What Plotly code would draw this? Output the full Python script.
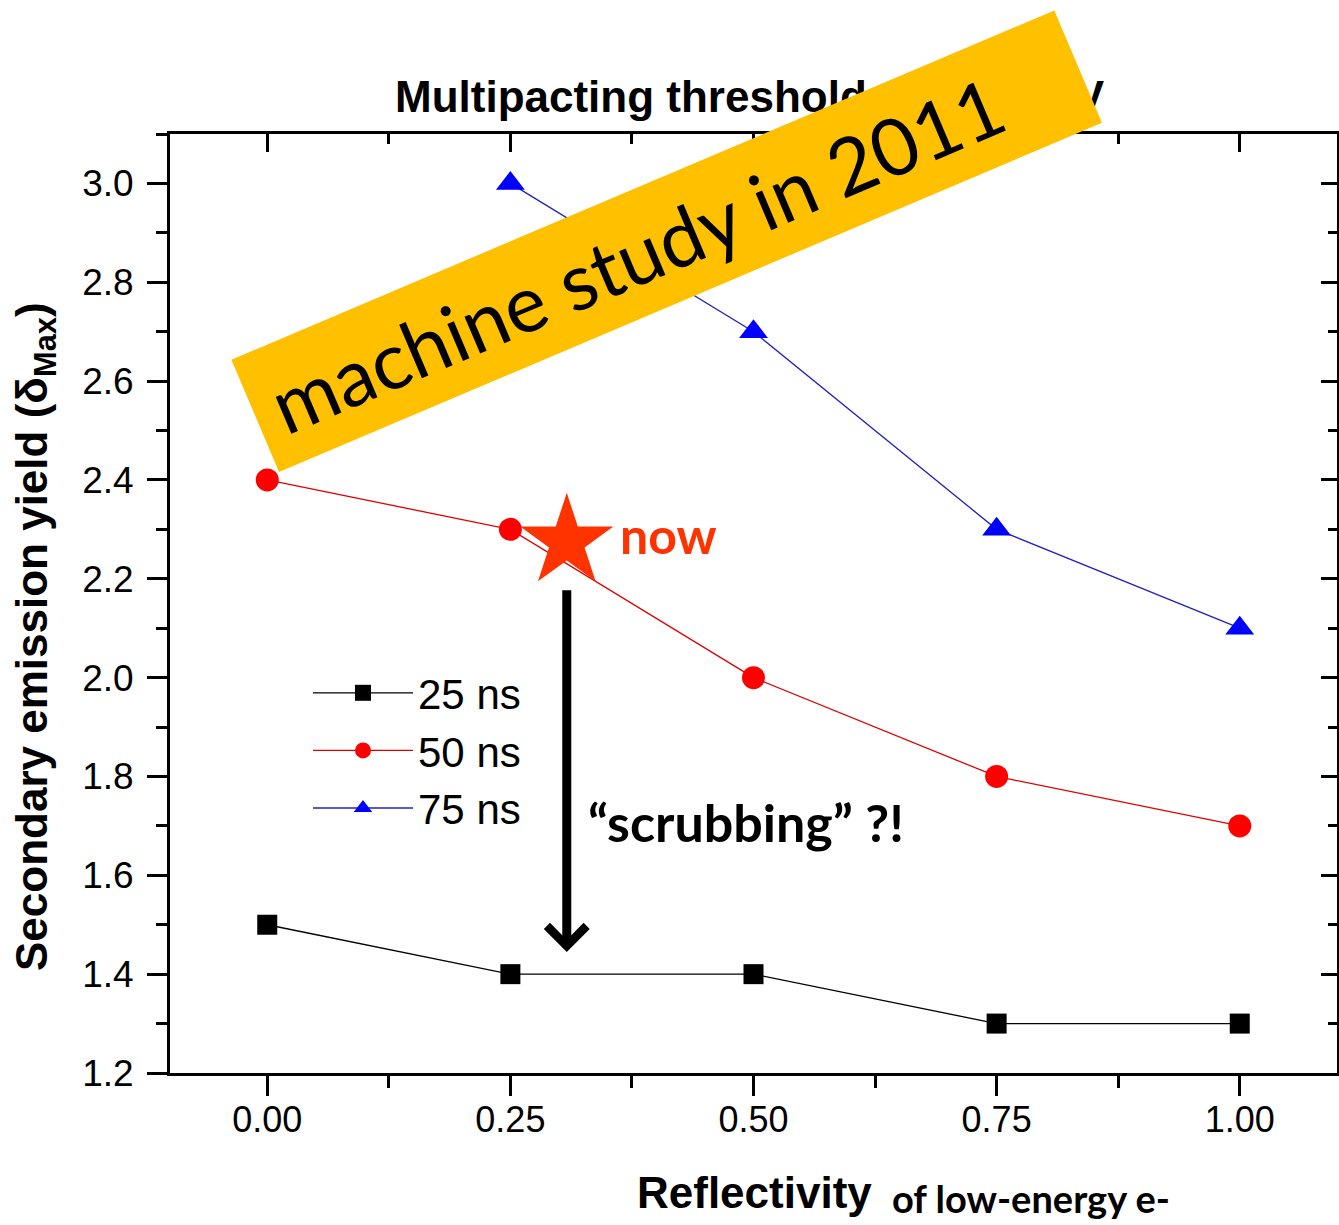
import plotly.graph_objects as go

# ---------------- data ----------------
reflectivity = [0.0, 0.25, 0.5, 0.75, 1.0]
sey_25ns = [1.5, 1.4, 1.4, 1.3, 1.3]
sey_50ns = [2.4, 2.3, 2.0, 1.8, 1.7]
reflectivity_75 = [0.25, 0.5, 0.75, 1.0]
sey_75ns = [3.0, 2.7, 2.3, 2.1]
now_x = [0.308]
now_y = [2.275]
arrow_x = 0.308
arrow_from = 2.18
arrow_to = 1.445
x_ticks = [0.0, 0.25, 0.5, 0.75, 1.0]
x_tick_labels = ["0.00", "0.25", "0.50", "0.75", "1.00"]
y_ticks = [1.2, 1.4, 1.6, 1.8, 2.0, 2.2, 2.4, 2.6, 2.8, 3.0]
y_tick_labels = ["1.2", "1.4", "1.6", "1.8", "2.0", "2.2", "2.4", "2.6", "2.8", "3.0"]

W, H = 1339, 1225
L, R, T, B = 170, 1337, 134, 1073


def px(xp):
    return (xp - L) / (R - L)


def py(yp):
    return (B - yp) / (B - T)


XR = [-0.1, 1.1]
YR = [1.2, 3.1]

fig = go.Figure()
fig.add_trace(go.Scatter(x=reflectivity, y=sey_25ns, name="25 ns", mode="lines+markers",
                         line=dict(color="black", width=1.3),
                         marker=dict(symbol="square", size=20, color="black")))
fig.add_trace(go.Scatter(x=reflectivity, y=sey_50ns, name="50 ns", mode="lines+markers",
                         line=dict(color="#E00000", width=1.3),
                         marker=dict(symbol="circle", size=23, color="#FF0000")))
fig.add_trace(go.Scatter(x=reflectivity_75, y=sey_75ns, name="75 ns", mode="lines+markers",
                         line=dict(color="#2020C0", width=1.3),
                         marker=dict(symbol="triangle-up", size=25, color="#0000FF")))
fig.add_trace(go.Scatter(x=now_x, y=now_y, mode="markers", showlegend=False,
                         marker=dict(symbol="star", size=70, color="#FF3300")))
# dummy traces for mirrored (inside-tick) top and right axes
fig.add_trace(go.Scatter(x=[None], y=[None], xaxis="x2", yaxis="y", showlegend=False, hoverinfo="skip"))
fig.add_trace(go.Scatter(x=[None], y=[None], xaxis="x", yaxis="y2", showlegend=False, hoverinfo="skip"))

common = dict(showgrid=False, zeroline=False, showline=True, linecolor="black", linewidth=3,
              tickcolor="black", tickwidth=3)

fig.update_layout(
    width=W, height=H,
    margin=dict(l=L, r=W - R, t=T, b=H - B),
    plot_bgcolor="white", paper_bgcolor="white",
    xaxis=dict(range=XR, tickmode="array", tickvals=x_ticks, ticktext=x_tick_labels,
               ticks="outside", ticklen=20, ticklabelstandoff=-7,
               tickfont=dict(family="Liberation Sans, Arial", size=36, color="black"),
               minor=dict(tick0=0, dtick=0.125, ticks="outside", ticklen=12, tickwidth=3, tickcolor="black"),
               **common),
    xaxis2=dict(range=XR, overlaying="x", side="top", anchor="y", showticklabels=False,
                tickmode="array", tickvals=x_ticks, ticks="inside", ticklen=18,
                minor=dict(tick0=0, dtick=0.125, ticks="inside", ticklen=10, tickwidth=3, tickcolor="black"),
                **common),
    yaxis=dict(range=YR, tickmode="array", tickvals=y_ticks, ticktext=y_tick_labels,
               ticks="outside", ticklen=20, ticklabelstandoff=6,
               tickfont=dict(family="Liberation Sans, Arial", size=37, color="black"),
               minor=dict(tick0=1.2, dtick=0.1, ticks="outside", ticklen=11, tickwidth=3, tickcolor="black"),
               **common),
    yaxis2=dict(range=YR, overlaying="y", side="right", anchor="x", showticklabels=False,
                tickmode="array", tickvals=y_ticks, ticks="inside", ticklen=16,
                minor=dict(tick0=1.2, dtick=0.1, ticks="inside", ticklen=9, tickwidth=3, tickcolor="black"),
                **common),
    legend=dict(x=px(308), y=py(659), xanchor="left", yanchor="top",
                bgcolor="rgba(0,0,0,0)", itemwidth=100,
                font=dict(family="Liberation Sans, Arial", size=42, color="black"),
                tracegroupgap=0),
    showlegend=True,
)

annotations = [
    dict(text="Multipacting threshold at 450 GeV", x=px(750), y=py(97), xref="paper", yref="paper",
         showarrow=False, xanchor="center", yanchor="middle",
         font=dict(family="Liberation Sans, Arial", size=44, color="black", weight="bold")),
    dict(text="Secondary emission yield (δ<sub>Max</sub>)", x=px(35), y=py(637), xref="paper", yref="paper",
         showarrow=False, xanchor="center", yanchor="middle", textangle=-90,
         font=dict(family="Liberation Sans, Arial", size=44, color="black", weight="bold")),
    dict(text="Reflectivity", x=px(754), y=py(1192), xref="paper", yref="paper",
         showarrow=False, xanchor="center", yanchor="middle",
         font=dict(family="Liberation Sans, Arial", size=44, color="black", weight="bold")),
    dict(text="of low-energy e-", x=px(890), y=py(1198), xref="paper", yref="paper",
         showarrow=False, xanchor="left", yanchor="middle",
         font=dict(family="Lato", size=38, color="black", weight="bold")),
    dict(text="now", x=px(618), y=py(535), xref="paper", yref="paper",
         showarrow=False, xanchor="left", yanchor="middle",
         font=dict(family="Lato", size=50, color="#FF3300", weight="bold")),
    dict(text="“scrubbing” ?!", x=px(586), y=py(822), xref="paper", yref="paper",
         showarrow=False, xanchor="left", yanchor="middle",
         font=dict(family="Lato", size=52, color="black", weight="bold")),
    dict(text="", x=arrow_x, y=arrow_to, ax=arrow_x, ay=arrow_from, xref="x", yref="y",
         axref="x", ayref="y", showarrow=True, arrowhead=4, arrowsize=0.85, arrowwidth=9,
         arrowcolor="black", standoff=0, startstandoff=0),
    dict(text="&nbsp;machine study in 2011", x=px(666), y=py(241), xref="paper", yref="paper",
         showarrow=False, xanchor="center", yanchor="middle", textangle=-23,
         width=893, height=121, align="left", valign="middle", bgcolor="#FFC000", borderpad=0,
         font=dict(family="Lato", size=79, color="black")),
]
fig.update_layout(annotations=annotations)

fig.write_html("out.html")
